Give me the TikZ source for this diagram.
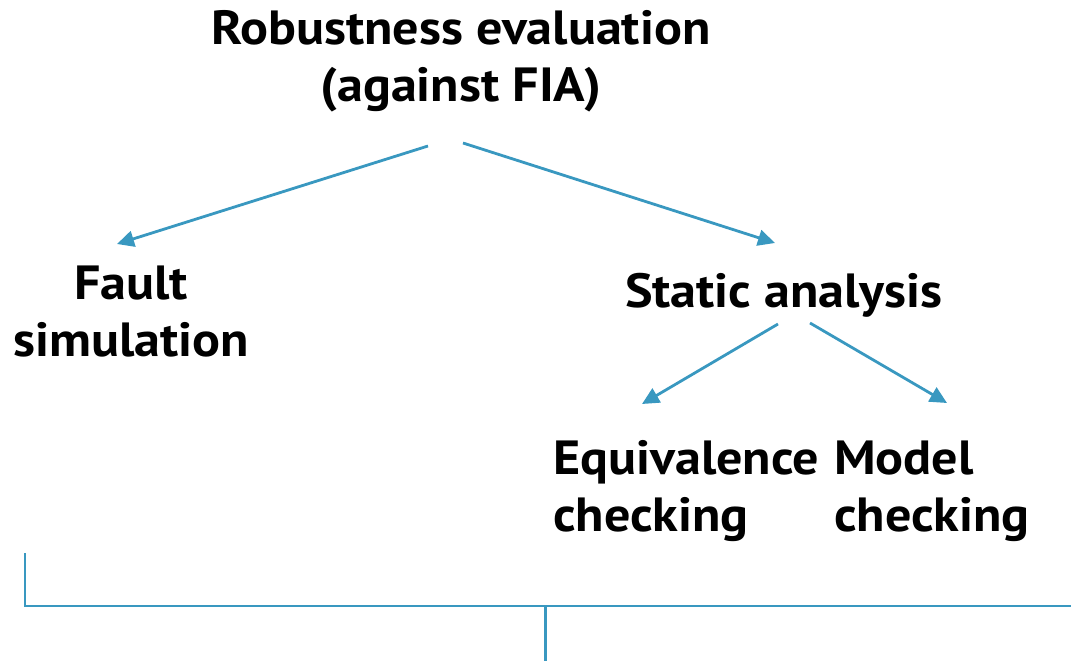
\documentclass[tikz,border=0pt]{standalone}
\usepackage{fontspec}
\setmainfont{PT Sans}[FakeStretch=1.085]
\usetikzlibrary{arrows.meta,calc}
\definecolor{linkblue}{RGB}{57,152,192}
\begin{document}
\begin{tikzpicture}[x=1pt,y=-1pt,
  label/.style={inner sep=0pt,font=\fontsize{48}{57}\selectfont\bfseries},
  link/.style={draw=linkblue,line width=2.8pt,-{Triangle[length=17pt,width=16pt]}},
  rule/.style={draw=linkblue,line width=2.8pt}]
\useasboundingbox (0,0) rectangle (1071,661);

% labels (anchored on the baseline of their first line)
\node[label,anchor=base] (root) at (461,45)
  {\begin{tabular}[t]{@{}c@{}}Robustness evaluation\\(against FIA)\end{tabular}};
\node[label,anchor=base] (fault) at (131,299)
  {\begin{tabular}[t]{@{}c@{}}Fault\\simulation\end{tabular}};
\node[label,anchor=base] (static) at (784,307) {Static analysis};
\node[label,anchor=base west] (equiv) at (553,474)
  {\begin{tabular}[t]{@{}l@{}}Equivalence\\checking\end{tabular}};
\node[label,anchor=base west] (model) at (834,474)
  {\begin{tabular}[t]{@{}l@{}}Model\\checking\end{tabular}};

% tree links
\draw[link] ($(root.base)+(-33,101)$) -- ($(fault.base)+(-14,-55)$);
\draw[link] ($(root.base)+(2,98)$) -- ($(static.base)+(-9,-64)$);
\draw[link] ($(static.base)+(-6,17)$) -- ($(equiv.base west)+(89,-70)$);
\draw[link] ($(static.base)+(26,16)$) -- ($(model.base west)+(113,-71)$);

% bracket along the bottom
\coordinate (bl) at (25,553);
\coordinate (bc) at (25,606);
\coordinate (br) at (1071,606);
\coordinate (mt) at (545.5,606);
\coordinate (mb) at (545.5,661);
\draw[rule] (bl) -- (bc) -- (br);
\draw[rule] (mt) -- (mb);
\end{tikzpicture}
\end{document}
